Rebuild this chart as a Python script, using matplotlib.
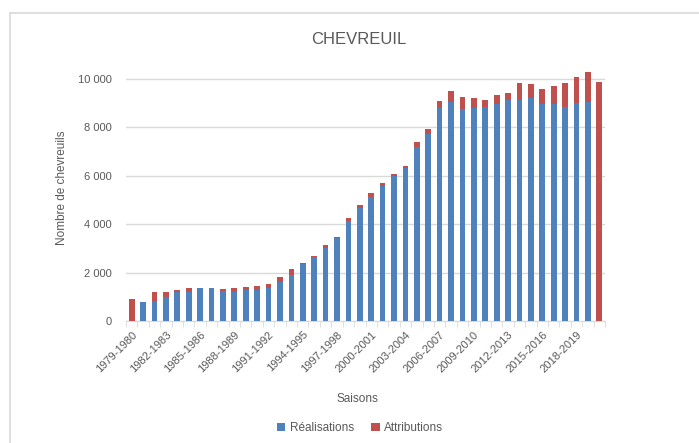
import numpy as np
import matplotlib
matplotlib.use('Agg')
import matplotlib.pyplot as plt
from matplotlib.lines import Line2D

plt.rcParams['font.family'] = ['Liberation Sans', 'DejaVu Sans']

# data
saisons = [f"{a}-{a + 1}" for a in range(1979, 2021)]
realisations = [0, 790, 830, 1010, 1180, 1190, 1350, 1350, 1260, 1180,
                1300, 1300, 1350, 1620, 1910, 2370, 2630, 3030, 3430, 4150,
                4690, 5130, 5590, 5990, 6330, 7210, 7710, 8810, 9070, 8770,
                8800, 8860, 8960, 9140, 9150, 9210, 8960, 8970, 8860, 9000,
                9070, 0]
attributions = [900, 10, 350, 170, 100, 185, 25, 25, 75, 195,
                100, 160, 160, 210, 240, 40, 70, 110, 60, 100,
                110, 150, 130, 105, 95, 195, 220, 270, 440, 490,
                400, 280, 370, 280, 700, 600, 610, 750, 990, 1070,
                1210, 9900]
yticks = [0, 2000, 4000, 6000, 8000, 10000]

blue = '#4F81BD'
red = '#C0504D'
txt = '#595959'
grid = '#D9D9D9'

W, H = 699, 443
fig = plt.figure(figsize=(W / 100, H / 100), dpi=100)

# chart frame (light border on top and left)
fig.add_artist(Line2D([10 / W, 10 / W], [0, 1 - 13 / H], color=grid, lw=1.2,
                      transform=fig.transFigure))
fig.add_artist(Line2D([10 / W, 1], [1 - 13 / H, 1 - 13 / H], color=grid, lw=1.2,
                      transform=fig.transFigure))

ax = fig.add_axes([126 / W, (H - 321) / H, 479 / W, 254 / H])

x = np.arange(len(saisons))
ax.bar(x, realisations, width=0.5, color=blue, label='Réalisations', zorder=3)
ax.bar(x, attributions, width=0.5, bottom=realisations, color=red,
       label='Attributions', zorder=3)

ax.set_xlim(-0.5, len(saisons) - 0.5)
ax.set_ylim(0, 10500)

ax.set_yticks(yticks)
ax.set_yticklabels([f"{v:,}".replace(',', '\u00a0') for v in yticks],
                   color=txt, fontsize=8)
ax.tick_params(axis='y', length=0, pad=10)
ax.yaxis.grid(True, color=grid, lw=1, zorder=0)

ax.set_xticks(x[::3])
ax.set_xticklabels(saisons[::3], rotation=45, ha='right',
                   rotation_mode='anchor', color=txt, fontsize=8)
ax.set_xticks(np.arange(-0.5, len(saisons)), minor=True)
ax.tick_params(axis='x', which='major', length=0, pad=6)
ax.tick_params(axis='x', which='minor', length=4, color=grid)

for s in ['top', 'right', 'left']:
    ax.spines[s].set_visible(False)
ax.spines['bottom'].set_color(grid)

fig.text(359 / W, 1 - 40 / H, 'CHEVREUIL', ha='center', va='center',
         fontsize=12, color=txt)
fig.text(62 / W, 1 - 188 / H, 'Nombre de chevreuils', rotation=90,
         ha='center', va='center', fontsize=8.5, color=txt)
fig.text(357 / W, 1 - 399 / H, 'Saisons', ha='center', va='center',
         fontsize=8.5, color=txt)

fig.legend(loc='center', bbox_to_anchor=(360 / W, 1 - 428 / H), ncol=2,
           frameon=False, fontsize=8.5, handlelength=0.7, handleheight=0.7,
           handletextpad=0.4, columnspacing=1.5, labelcolor=txt)

fig.savefig('out.png', dpi=100)
